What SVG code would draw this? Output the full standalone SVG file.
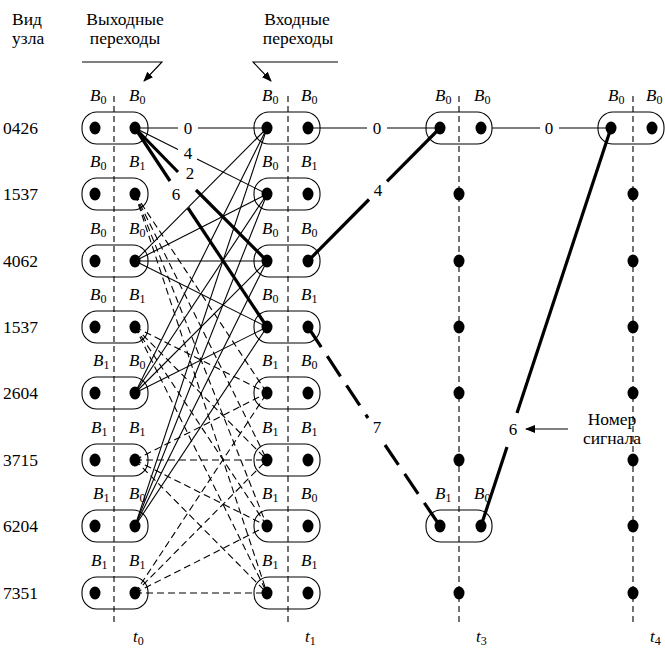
<svg xmlns="http://www.w3.org/2000/svg" width="665" height="654" viewBox="0 0 665 654" font-family="'Liberation Serif','DejaVu Serif',serif">
<defs>
<style>
text{font-family:"Liberation Serif","DejaVu Serif",serif;fill:#000}
.t{font-size:17.5px}
.b{font-size:17px;font-style:italic}
.s{font-size:12px;font-style:normal}
.n{font-size:17px}
.vd{stroke:#000;stroke-width:1.1;stroke-dasharray:6,4;fill:none}
.pill{fill:none;stroke:#000;stroke-width:1.1}
.dot{fill:#000}
.th{stroke:#000;stroke-width:1.1;fill:none}
.da{stroke:#000;stroke-width:1.1;stroke-dasharray:7,4;fill:none}
.tk{stroke:#000;stroke-width:3.2;fill:none}
.tkd{stroke:#000;stroke-width:3.2;fill:none;stroke-dasharray:24,11}
</style>
<marker id="ah" viewBox="0 0 10 10" refX="9" refY="5" markerWidth="10" markerHeight="10" orient="auto" markerUnits="userSpaceOnUse">
<path d="M0,1 L10,5 L0,9 Z" fill="#000"/>
</marker>
</defs>
<rect width="665" height="654" fill="#fff"/>

<g id="header">
<text class="t" x="12" y="25" font-family="Liberation Serif, serif">Вид</text>
<text class="t" x="12" y="44" font-family="Liberation Serif, serif">узла</text>
<text class="t" x="125" y="25" text-anchor="middle" font-family="Liberation Serif, serif">Выходные</text>
<text class="t" x="125" y="44" text-anchor="middle" font-family="Liberation Serif, serif">переходы</text>
<text class="t" x="297" y="25" text-anchor="middle" font-family="Liberation Serif, serif">Входные</text>
<text class="t" x="298" y="44" text-anchor="middle" font-family="Liberation Serif, serif">переходы</text>
<path d="M82,62 H162 L144,81" class="th" marker-end="url(#ah)"/>
<path d="M338,62 H253 L271,81" class="th" marker-end="url(#ah)"/>
</g>

<g id="codes" font-family="Liberation Serif, serif">
<text class="t" x="3" y="134">0426</text>
<text class="t" x="3" y="200">1537</text>
<text class="t" x="3" y="267">4062</text>
<text class="t" x="3" y="333">1537</text>
<text class="t" x="3" y="399">2604</text>
<text class="t" x="3" y="466">3715</text>
<text class="t" x="3" y="532">6204</text>
<text class="t" x="3" y="599">7351</text>
</g>

<g id="axes" font-family="Liberation Serif, serif">
<line class="vd" x1="114" y1="96" x2="114" y2="626"/>
<line class="vd" x1="288" y1="96" x2="288" y2="626"/>
<line class="vd" x1="459" y1="96" x2="459" y2="626"/>
<line class="vd" x1="633" y1="96" x2="633" y2="626"/>
<text class="b" x="133" y="642">t<tspan class="s" dy="3">0</tspan></text>
<text class="b" x="305" y="642">t<tspan class="s" dy="3">1</tspan></text>
<text class="b" x="476" y="642">t<tspan class="s" dy="3">3</tspan></text>
<text class="b" x="650" y="642">t<tspan class="s" dy="3">4</tspan></text>
</g>

<g id="connectors" font-family="Liberation Serif, serif">
<line class="th" x1="135" y1="261" x2="267" y2="128"/>
<line class="th" x1="135" y1="261" x2="267" y2="194"/>
<line class="th" x1="135" y1="261" x2="267" y2="261"/>
<line class="th" x1="135" y1="261" x2="267" y2="327"/>
<line class="th" x1="135" y1="393" x2="267" y2="128"/>
<line class="th" x1="135" y1="393" x2="267" y2="194"/>
<line class="th" x1="135" y1="393" x2="267" y2="261"/>
<line class="th" x1="135" y1="393" x2="267" y2="327"/>
<line class="th" x1="135" y1="526" x2="267" y2="128"/>
<line class="th" x1="135" y1="526" x2="267" y2="194"/>
<line class="th" x1="135" y1="526" x2="267" y2="261"/>
<line class="th" x1="135" y1="526" x2="267" y2="327"/>
<line class="th" x1="135" y1="128" x2="178" y2="128"/>
<line class="th" x1="198" y1="128" x2="267" y2="128"/>
<line class="th" x1="135" y1="128" x2="178" y2="149.5"/>
<line class="th" x1="197" y1="159" x2="267" y2="194"/>
<line class="tk" x1="135" y1="128" x2="178" y2="172"/>
<line class="tk" x1="196" y1="190" x2="267" y2="261"/>
<line class="tk" x1="135" y1="128" x2="170" y2="181"/>
<line class="tk" x1="188" y1="208" x2="267" y2="327"/>
<text class="n" x="188" y="134" text-anchor="middle">0</text>
<text class="n" x="188" y="159" text-anchor="middle">4</text>
<text class="n" x="190" y="179" text-anchor="middle">2</text>
<text class="n" x="176" y="200" text-anchor="middle">6</text>
<line class="da" x1="135" y1="194" x2="267" y2="393"/>
<line class="da" x1="135" y1="194" x2="267" y2="460"/>
<line class="da" x1="135" y1="194" x2="267" y2="526"/>
<line class="da" x1="135" y1="194" x2="267" y2="593"/>
<line class="da" x1="135" y1="327" x2="267" y2="393"/>
<line class="da" x1="135" y1="327" x2="267" y2="460"/>
<line class="da" x1="135" y1="327" x2="267" y2="526"/>
<line class="da" x1="135" y1="327" x2="267" y2="593"/>
<line class="da" x1="135" y1="460" x2="267" y2="393"/>
<line class="da" x1="135" y1="460" x2="267" y2="460"/>
<line class="da" x1="135" y1="460" x2="267" y2="526"/>
<line class="da" x1="135" y1="460" x2="267" y2="593"/>
<line class="da" x1="135" y1="593" x2="267" y2="393"/>
<line class="da" x1="135" y1="593" x2="267" y2="460"/>
<line class="da" x1="135" y1="593" x2="267" y2="526"/>
<line class="da" x1="135" y1="593" x2="267" y2="593"/>
<line class="th" x1="308" y1="128" x2="367" y2="128"/>
<line class="th" x1="387" y1="128" x2="440" y2="128"/>
<text class="n" x="377" y="134" text-anchor="middle">0</text>
<line class="tk" x1="308" y1="261" x2="369" y2="199.5"/>
<line class="tk" x1="387" y1="181.4" x2="440" y2="128"/>
<text class="n" x="378" y="196" text-anchor="middle">4</text>
<line class="tkd" x1="308" y1="327" x2="368" y2="418"/>
<line class="tkd" x1="385" y1="445" x2="440" y2="526"/>
<text class="n" x="377" y="433" text-anchor="middle">7</text>
<line class="th" x1="492" y1="128" x2="540" y2="128"/>
<line class="th" x1="559" y1="128" x2="611" y2="128"/>
<text class="n" x="549" y="134" text-anchor="middle">0</text>
<line class="tk" x1="481" y1="526" x2="507" y2="447"/>
<line class="tk" x1="517" y1="413" x2="611" y2="128"/>
<text class="n" x="513" y="435" text-anchor="middle">6</text>
<line class="th" x1="568" y1="429" x2="526" y2="429" marker-end="url(#ah)"/>
<text class="t" x="612" y="425" text-anchor="middle">Номер</text>
<text class="t" x="612" y="444" text-anchor="middle">сигнала</text>
</g>

<g font-family="Liberation Serif, serif">
<g id="n0_0"><text class="b" x="90" y="101">B<tspan class="s" dy="3">0</tspan></text><text class="b" x="129" y="101">B<tspan class="s" dy="3">0</tspan></text><rect class="pill" x="82" y="112" width="66" height="32" rx="15"/><ellipse class="dot" cx="95" cy="128" rx="5.5" ry="6.5"/><ellipse class="dot" cx="135" cy="128" rx="5.5" ry="6.5"/></g>
<g id="n0_1"><text class="b" x="90" y="167">B<tspan class="s" dy="3">0</tspan></text><text class="b" x="129" y="167">B<tspan class="s" dy="3">1</tspan></text><rect class="pill" x="82" y="178" width="66" height="32" rx="15"/><ellipse class="dot" cx="95" cy="194" rx="5.5" ry="6.5"/><ellipse class="dot" cx="135" cy="194" rx="5.5" ry="6.5"/></g>
<g id="n0_2"><text class="b" x="90" y="234">B<tspan class="s" dy="3">0</tspan></text><text class="b" x="129" y="234">B<tspan class="s" dy="3">0</tspan></text><rect class="pill" x="82" y="245" width="66" height="32" rx="15"/><ellipse class="dot" cx="95" cy="261" rx="5.5" ry="6.5"/><ellipse class="dot" cx="135" cy="261" rx="5.5" ry="6.5"/></g>
<g id="n0_3"><text class="b" x="90" y="300">B<tspan class="s" dy="3">0</tspan></text><text class="b" x="129" y="300">B<tspan class="s" dy="3">1</tspan></text><rect class="pill" x="82" y="311" width="66" height="32" rx="15"/><ellipse class="dot" cx="95" cy="327" rx="5.5" ry="6.5"/><ellipse class="dot" cx="135" cy="327" rx="5.5" ry="6.5"/></g>
<g id="n0_4"><text class="b" x="93" y="366">B<tspan class="s" dy="3">1</tspan></text><text class="b" x="129" y="366">B<tspan class="s" dy="3">0</tspan></text><rect class="pill" x="82" y="377" width="66" height="32" rx="15"/><ellipse class="dot" cx="95" cy="393" rx="5.5" ry="6.5"/><ellipse class="dot" cx="135" cy="393" rx="5.5" ry="6.5"/></g>
<g id="n0_5"><text class="b" x="91" y="433">B<tspan class="s" dy="3">1</tspan></text><text class="b" x="129" y="433">B<tspan class="s" dy="3">1</tspan></text><rect class="pill" x="82" y="444" width="66" height="32" rx="15"/><ellipse class="dot" cx="95" cy="460" rx="5.5" ry="6.5"/><ellipse class="dot" cx="135" cy="460" rx="5.5" ry="6.5"/></g>
<g id="n0_6"><text class="b" x="93" y="499">B<tspan class="s" dy="3">1</tspan></text><text class="b" x="129" y="499">B<tspan class="s" dy="3">0</tspan></text><rect class="pill" x="82" y="510" width="66" height="32" rx="15"/><ellipse class="dot" cx="95" cy="526" rx="5.5" ry="6.5"/><ellipse class="dot" cx="135" cy="526" rx="5.5" ry="6.5"/></g>
<g id="n0_7"><text class="b" x="91" y="566">B<tspan class="s" dy="3">1</tspan></text><text class="b" x="129" y="566">B<tspan class="s" dy="3">1</tspan></text><rect class="pill" x="82" y="577" width="66" height="32" rx="15"/><ellipse class="dot" cx="95" cy="593" rx="5.5" ry="6.5"/><ellipse class="dot" cx="135" cy="593" rx="5.5" ry="6.5"/></g>

<g id="n1_0"><text class="b" x="262" y="101">B<tspan class="s" dy="3">0</tspan></text><text class="b" x="301" y="101">B<tspan class="s" dy="3">0</tspan></text><rect class="pill" x="254" y="112" width="66" height="32" rx="15"/><ellipse class="dot" cx="267" cy="128" rx="5.5" ry="6.5"/><ellipse class="dot" cx="308" cy="128" rx="5.5" ry="6.5"/></g>
<g id="n1_1"><text class="b" x="262" y="167">B<tspan class="s" dy="3">0</tspan></text><text class="b" x="301" y="167">B<tspan class="s" dy="3">1</tspan></text><rect class="pill" x="254" y="178" width="66" height="32" rx="15"/><ellipse class="dot" cx="267" cy="194" rx="5.5" ry="6.5"/><ellipse class="dot" cx="308" cy="194" rx="5.5" ry="6.5"/></g>
<g id="n1_2"><text class="b" x="262" y="234">B<tspan class="s" dy="3">0</tspan></text><text class="b" x="301" y="234">B<tspan class="s" dy="3">0</tspan></text><rect class="pill" x="254" y="245" width="66" height="32" rx="15"/><ellipse class="dot" cx="267" cy="261" rx="5.5" ry="6.5"/><ellipse class="dot" cx="308" cy="261" rx="5.5" ry="6.5"/></g>
<g id="n1_3"><text class="b" x="262" y="300">B<tspan class="s" dy="3">0</tspan></text><text class="b" x="301" y="300">B<tspan class="s" dy="3">1</tspan></text><rect class="pill" x="254" y="311" width="66" height="32" rx="15"/><ellipse class="dot" cx="267" cy="327" rx="5.5" ry="6.5"/><ellipse class="dot" cx="308" cy="327" rx="5.5" ry="6.5"/></g>
<g id="n1_4"><text class="b" x="262" y="366">B<tspan class="s" dy="3">1</tspan></text><text class="b" x="301" y="366">B<tspan class="s" dy="3">0</tspan></text><rect class="pill" x="254" y="377" width="66" height="32" rx="15"/><ellipse class="dot" cx="267" cy="393" rx="5.5" ry="6.5"/><ellipse class="dot" cx="308" cy="393" rx="5.5" ry="6.5"/></g>
<g id="n1_5"><text class="b" x="262" y="433">B<tspan class="s" dy="3">1</tspan></text><text class="b" x="301" y="433">B<tspan class="s" dy="3">1</tspan></text><rect class="pill" x="254" y="444" width="66" height="32" rx="15"/><ellipse class="dot" cx="267" cy="460" rx="5.5" ry="6.5"/><ellipse class="dot" cx="308" cy="460" rx="5.5" ry="6.5"/></g>
<g id="n1_6"><text class="b" x="262" y="499">B<tspan class="s" dy="3">1</tspan></text><text class="b" x="301" y="499">B<tspan class="s" dy="3">0</tspan></text><rect class="pill" x="254" y="510" width="66" height="32" rx="15"/><ellipse class="dot" cx="267" cy="526" rx="5.5" ry="6.5"/><ellipse class="dot" cx="308" cy="526" rx="5.5" ry="6.5"/></g>
<g id="n1_7"><text class="b" x="262" y="566">B<tspan class="s" dy="3">1</tspan></text><text class="b" x="301" y="566">B<tspan class="s" dy="3">1</tspan></text><rect class="pill" x="254" y="577" width="66" height="32" rx="15"/><ellipse class="dot" cx="267" cy="593" rx="5.5" ry="6.5"/><ellipse class="dot" cx="308" cy="593" rx="5.5" ry="6.5"/></g>

<g id="n3_0"><text class="b" x="435" y="101">B<tspan class="s" dy="3">0</tspan></text><text class="b" x="474" y="101">B<tspan class="s" dy="3">0</tspan></text><rect class="pill" x="426" y="112" width="66" height="32" rx="15"/><ellipse class="dot" cx="440" cy="128" rx="5.5" ry="6.5"/><ellipse class="dot" cx="481" cy="128" rx="5.5" ry="6.5"/></g>
<g id="n3_1"><ellipse class="dot" cx="459" cy="194" rx="5.5" ry="6.5"/></g>
<g id="n3_2"><ellipse class="dot" cx="459" cy="261" rx="5.5" ry="6.5"/></g>
<g id="n3_3"><ellipse class="dot" cx="459" cy="327" rx="5.5" ry="6.5"/></g>
<g id="n3_4"><ellipse class="dot" cx="459" cy="393" rx="5.5" ry="6.5"/></g>
<g id="n3_5"><ellipse class="dot" cx="459" cy="460" rx="5.5" ry="6.5"/></g>
<g id="n3_6"><text class="b" x="435" y="499">B<tspan class="s" dy="3">1</tspan></text><text class="b" x="474" y="499">B<tspan class="s" dy="3">0</tspan></text><rect class="pill" x="426" y="510" width="66" height="32" rx="15"/><ellipse class="dot" cx="440" cy="526" rx="5.5" ry="6.5"/><ellipse class="dot" cx="481" cy="526" rx="5.5" ry="6.5"/></g>
<g id="n3_7"><ellipse class="dot" cx="459" cy="593" rx="5.5" ry="6.5"/></g>

<g id="n4_0"><text class="b" x="608" y="101">B<tspan class="s" dy="3">0</tspan></text><text class="b" x="646" y="101">B<tspan class="s" dy="3">0</tspan></text><rect class="pill" x="598" y="112" width="66" height="32" rx="15"/><ellipse class="dot" cx="611" cy="128" rx="5.5" ry="6.5"/><ellipse class="dot" cx="652" cy="128" rx="5.5" ry="6.5"/></g>
<g id="n4_1"><ellipse class="dot" cx="633" cy="194" rx="5.5" ry="6.5"/></g>
<g id="n4_2"><ellipse class="dot" cx="633" cy="261" rx="5.5" ry="6.5"/></g>
<g id="n4_3"><ellipse class="dot" cx="633" cy="327" rx="5.5" ry="6.5"/></g>
<g id="n4_4"><ellipse class="dot" cx="633" cy="393" rx="5.5" ry="6.5"/></g>
<g id="n4_5"><ellipse class="dot" cx="633" cy="460" rx="5.5" ry="6.5"/></g>
<g id="n4_6"><ellipse class="dot" cx="633" cy="526" rx="5.5" ry="6.5"/></g>
<g id="n4_7"><ellipse class="dot" cx="633" cy="593" rx="5.5" ry="6.5"/></g>
</g>
</svg>
